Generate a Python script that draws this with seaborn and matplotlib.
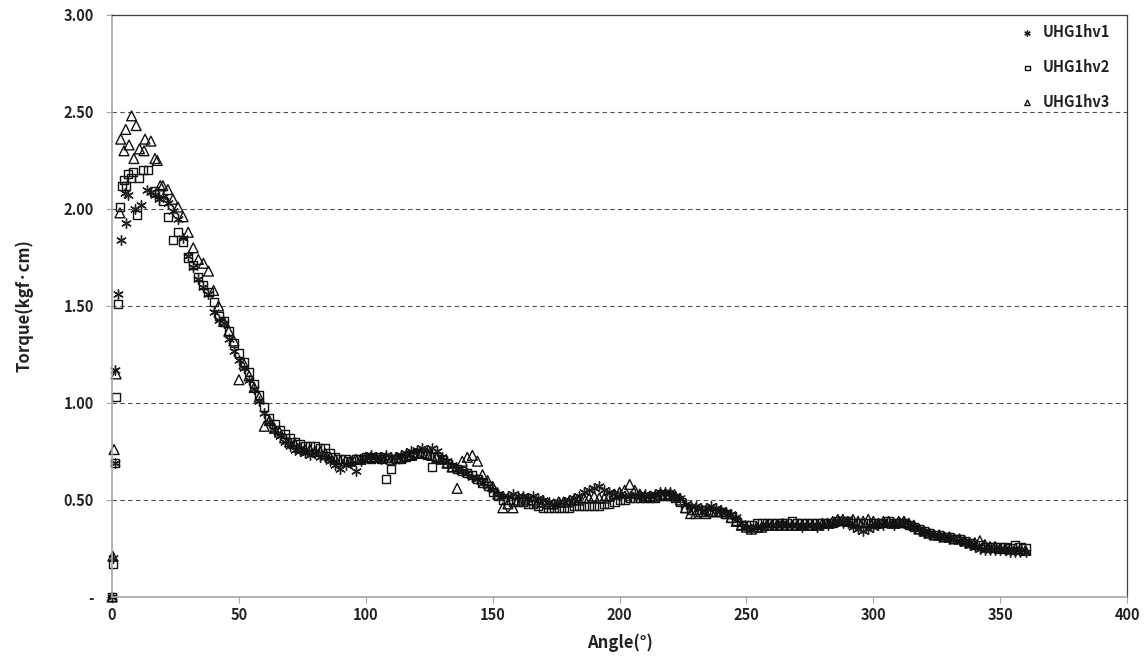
import matplotlib
matplotlib.use("Agg")
import matplotlib.pyplot as plt
import matplotlib.ticker as mticker
import numpy as np
import pandas as pd
import seaborn as sns

# ---- data ----
series_names = ["UHG1hv1", "UHG1hv2", "UHG1hv3"]

# start of each run (angle < 20 deg), sampled unevenly
early_angle1 = [0, 0.5, 1.2, 1.2, 2.5, 3.4, 5.4, 5.1, 6.3, 9.0, 11.4, 13.6, 15.5, 17.0, 18.5]
early_torque1 = [0.00, 0.20, 0.69, 1.17, 1.56, 1.84, 1.93, 2.08, 2.07, 2.00, 2.02, 2.10, 2.09, 2.07, 2.05]

early_angle2 = [0, 0.3, 1.2, 1.6, 2.5, 3.1, 4.0, 4.7, 5.5, 6.4, 7.5, 8.4, 9.7, 10.5, 12.3, 14.3, 16.6, 18.5]
early_torque2 = [0.00, 0.17, 0.69, 1.03, 1.51, 2.01, 2.12, 2.15, 2.12, 2.18, 2.16, 2.19, 1.97, 2.16, 2.20, 2.20, 2.09, 2.08]

early_angle3 = [0, 0.3, 0.8, 1.6, 3.1, 3.4, 4.7, 5.4, 6.7, 7.7, 8.6, 9.5, 10.8, 12.6, 13.0, 15.3, 16.9, 17.8, 19.0]
early_torque3 = [0.00, 0.21, 0.76, 1.15, 1.98, 2.36, 2.30, 2.41, 2.33, 2.48, 2.26, 2.43, 2.31, 2.30, 2.36, 2.35, 2.26, 2.25, 2.12]

# from 20 to 360 deg every 2 deg
grid_angle = list(range(20, 362, 2))

torque1 = [
    2.06, 2.03, 1.99, 1.95, 1.85, 1.76, 1.70, 1.64, 1.60, 1.56,
    1.47, 1.43, 1.41, 1.33, 1.27, 1.22, 1.18, 1.12, 1.07, 1.01,
    0.95, 0.90, 0.86, 0.83, 0.80, 0.78, 0.76, 0.75, 0.74, 0.73,
    0.74, 0.72, 0.72, 0.70, 0.68, 0.66, 0.68, 0.69, 0.65, 0.70,
    0.72, 0.73, 0.72, 0.71, 0.73, 0.72, 0.72, 0.73, 0.74, 0.75,
    0.76, 0.77, 0.76, 0.77, 0.75, 0.72, 0.70, 0.68, 0.66, 0.65,
    0.64, 0.62, 0.61, 0.59, 0.57, 0.55, 0.53, 0.52, 0.52, 0.53,
    0.52, 0.52, 0.51, 0.52, 0.51, 0.50, 0.49, 0.48, 0.49, 0.49,
    0.50, 0.51, 0.52, 0.54, 0.55, 0.56, 0.57, 0.55, 0.54, 0.53,
    0.53, 0.52, 0.52, 0.53, 0.52, 0.53, 0.52, 0.53, 0.54, 0.54,
    0.54, 0.52, 0.51, 0.48, 0.47, 0.47, 0.46, 0.46, 0.47, 0.46,
    0.45, 0.44, 0.43, 0.41, 0.38, 0.36, 0.35, 0.36, 0.36, 0.37,
    0.37, 0.37, 0.38, 0.37, 0.37, 0.37, 0.36, 0.37, 0.37, 0.36,
    0.37, 0.37, 0.38, 0.39, 0.38, 0.38, 0.36, 0.35, 0.34, 0.35,
    0.36, 0.37, 0.37, 0.38, 0.37, 0.38, 0.39, 0.37, 0.36, 0.35,
    0.33, 0.33, 0.32, 0.31, 0.31, 0.30, 0.30, 0.29, 0.28, 0.27,
    0.26, 0.25, 0.24, 0.24, 0.24, 0.24, 0.24, 0.23, 0.23, 0.23,
    0.23,
]

torque2 = [
    2.04, 1.96, 1.84, 1.88, 1.83, 1.75, 1.71, 1.65, 1.61, 1.57,
    1.52, 1.45, 1.42, 1.37, 1.31, 1.26, 1.21, 1.16, 1.10, 1.04,
    0.98, 0.92, 0.89, 0.86, 0.84, 0.82, 0.80, 0.79, 0.78, 0.78,
    0.78, 0.77, 0.77, 0.74, 0.72, 0.71, 0.71, 0.70, 0.71, 0.71,
    0.72, 0.71, 0.72, 0.71, 0.61, 0.66, 0.71, 0.71, 0.72, 0.73,
    0.74, 0.74, 0.73, 0.67, 0.72, 0.71, 0.69, 0.67, 0.66, 0.65,
    0.64, 0.63, 0.61, 0.59, 0.57, 0.54, 0.52, 0.50, 0.50, 0.49,
    0.49, 0.49, 0.48, 0.48, 0.47, 0.46, 0.46, 0.46, 0.46, 0.46,
    0.46, 0.47, 0.47, 0.47, 0.47, 0.47, 0.47, 0.48, 0.48, 0.49,
    0.50, 0.50, 0.51, 0.51, 0.51, 0.51, 0.51, 0.51, 0.52, 0.52,
    0.52, 0.51, 0.49, 0.46, 0.45, 0.45, 0.45, 0.45, 0.44, 0.44,
    0.44, 0.43, 0.41, 0.39, 0.37, 0.37, 0.37, 0.38, 0.38, 0.38,
    0.38, 0.38, 0.38, 0.38, 0.39, 0.38, 0.38, 0.38, 0.38, 0.38,
    0.38, 0.38, 0.38, 0.39, 0.39, 0.39, 0.38, 0.38, 0.38, 0.38,
    0.38, 0.38, 0.38, 0.39, 0.38, 0.38, 0.38, 0.37, 0.36, 0.35,
    0.34, 0.33, 0.32, 0.32, 0.31, 0.31, 0.30, 0.30, 0.29, 0.28,
    0.27, 0.27, 0.26, 0.26, 0.26, 0.26, 0.26, 0.25, 0.27, 0.26,
    0.25,
]

torque3 = [
    2.12, 2.10, 2.05, 2.01, 1.96, 1.88, 1.80, 1.74, 1.72, 1.68,
    1.58, 1.50, 1.42, 1.37, 1.32, 1.12, 1.20, 1.14, 1.08, 1.03,
    0.88, 0.91, 0.87, 0.85, 0.82, 0.80, 0.79, 0.77, 0.76, 0.76,
    0.75, 0.75, 0.74, 0.72, 0.71, 0.70, 0.70, 0.70, 0.71, 0.71,
    0.72, 0.72, 0.72, 0.72, 0.72, 0.71, 0.72, 0.72, 0.73, 0.73,
    0.74, 0.74, 0.74, 0.73, 0.72, 0.71, 0.69, 0.67, 0.56, 0.70,
    0.72, 0.73, 0.70, 0.63, 0.60, 0.57, 0.53, 0.46, 0.48, 0.46,
    0.50, 0.51, 0.50, 0.50, 0.49, 0.49, 0.48, 0.48, 0.49, 0.49,
    0.49, 0.50, 0.50, 0.51, 0.51, 0.52, 0.51, 0.51, 0.52, 0.53,
    0.54, 0.55, 0.58, 0.55, 0.53, 0.52, 0.52, 0.52, 0.53, 0.53,
    0.53, 0.52, 0.50, 0.46, 0.43, 0.43, 0.44, 0.43, 0.44, 0.44,
    0.44, 0.43, 0.41, 0.39, 0.37, 0.36, 0.35, 0.36, 0.36, 0.37,
    0.37, 0.37, 0.37, 0.37, 0.37, 0.37, 0.37, 0.37, 0.37, 0.37,
    0.38, 0.38, 0.39, 0.40, 0.40, 0.39, 0.40, 0.39, 0.39, 0.40,
    0.39, 0.38, 0.39, 0.39, 0.38, 0.39, 0.39, 0.38, 0.37, 0.35,
    0.34, 0.33, 0.32, 0.32, 0.31, 0.31, 0.30, 0.30, 0.29, 0.28,
    0.28, 0.29, 0.27, 0.26, 0.26, 0.25, 0.25, 0.25, 0.25, 0.25,
    0.24,
]

y_ticks = [0, 0.5, 1.0, 1.5, 2.0, 2.5, 3.0]
x_ticks = [0, 50, 100, 150, 200, 250, 300, 350, 400]

df1 = pd.DataFrame({"Angle": early_angle1 + grid_angle, "Torque": early_torque1 + torque1})
df2 = pd.DataFrame({"Angle": early_angle2 + grid_angle, "Torque": early_torque2 + torque2})
df3 = pd.DataFrame({"Angle": early_angle3 + grid_angle, "Torque": early_torque3 + torque3})

# ---- style ----
sns.set_theme(style="white")
plt.rcParams["font.family"] = ["Noto Sans CJK KR", "DejaVu Sans"]

fig = plt.figure(figsize=(11.47, 6.66), dpi=100)
ax = fig.add_axes([0.0977, 0.1036, 0.8849, 0.8739])

sns.scatterplot(data=df1, x="Angle", y="Torque", ax=ax, marker=(6, 2, 0), s=48,
                color="#222222", linewidth=1.0, label=series_names[0], clip_on=False)
sns.scatterplot(data=df2, x="Angle", y="Torque", ax=ax, marker="s", s=34,
                facecolor="none", edgecolor="#111111", linewidth=1.0,
                label=series_names[1], clip_on=False)
sns.scatterplot(data=df3, x="Angle", y="Torque", ax=ax, marker="^", s=50,
                facecolor="none", edgecolor="#111111", linewidth=1.0,
                label=series_names[2], clip_on=False)

ax.set_xlim(0, 400)
ax.set_ylim(0, 3)
ax.set_xticks(x_ticks)
ax.set_yticks(y_ticks)
ax.yaxis.set_major_formatter(mticker.FuncFormatter(lambda v, p: "-" if v == 0 else f"{v:.2f}"))

ax.set_axisbelow(True)
ax.yaxis.grid(True, linestyle=(0, (4, 3)), color="#505050", linewidth=0.8)
ax.xaxis.grid(False)

for side in ["left", "bottom"]:
    ax.spines[side].set_color("#a6a6a6")
    ax.spines[side].set_linewidth(1.2)
for side in ["top", "right"]:
    ax.spines[side].set_color("#404040")
    ax.spines[side].set_linewidth(0.9)

ax.tick_params(axis="both", which="major", length=4, width=0.8, color="#a6a6a6",
               direction="out", labelsize=10.5, pad=3)
ax.tick_params(axis="y", left=True, pad=9)
ax.tick_params(axis="x", bottom=True)
for lab in ax.get_xticklabels() + ax.get_yticklabels():
    lab.set_fontweight("bold")
    lab.set_color("#222222")

ax.set_xlabel("Angle(°)", fontsize=12, fontweight="bold", color="#222222", labelpad=8)
ax.set_ylabel("Torque(kgf·cm)", fontsize=12, fontweight="bold", color="#222222", labelpad=22)

leg = ax.legend(loc="upper right", bbox_to_anchor=(0.992, 1.0), frameon=False,
                borderaxespad=0.2, markerscale=0.55, handletextpad=0.05,
                labelspacing=1.3, prop={"weight": "bold", "size": 10.5})
for t in leg.get_texts():
    t.set_color("#222222")

fig.savefig("out.png", dpi=100)
